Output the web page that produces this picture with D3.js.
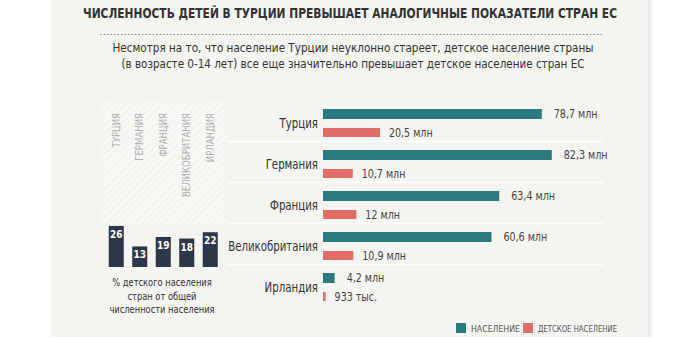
<!DOCTYPE html>
<html><head><meta charset="utf-8">
<script src="https://cdn.jsdelivr.net/npm/d3@7"></script>
<style>
html,body{margin:0;padding:0;background:#fff;}
svg{display:block;}
text{font-family:"DejaVu Sans Condensed","Liberation Sans Narrow","Arial Narrow",sans-serif;}
</style></head>
<body>
<svg id="chart" width="700" height="340"></svg>
<script>
const countries = ["Турция","Германия","Франция","Великобритания","Ирландия"];
const countriesUpper = ["ТУРЦИЯ","ГЕРМАНИЯ","ФРАНЦИЯ","ВЕЛИКОБРИТАНИЯ","ИРЛАНДИЯ"];
const population = [78.7, 82.3, 63.4, 60.6, 4.2];
const populationLabels = ["78,7 млн","82,3 млн","63,4 млн","60,6 млн","4,2 млн"];
const children = [20.5, 10.7, 12, 10.9, 0.933];
const childrenLabels = ["20,5 млн","10,7 млн","12 млн","10,9 млн","933 тыс."];
const childShare = [26, 13, 19, 18, 22];
const title = "ЧИСЛЕННОСТЬ ДЕТЕЙ В ТУРЦИИ ПРЕВЫШАЕТ АНАЛОГИЧНЫЕ ПОКАЗАТЕЛИ СТРАН ЕС";
const subtitle = ["Несмотря на то, что население Турции неуклонно стареет, детское население страны",
                  "(в возрасте 0-14 лет) все еще значительно превышает детское население стран ЕС"];
const caption = ["% детского населения","стран от общей","численности населения"];
const legendLabels = ["НАСЕЛЕНИЕ","ДЕТСКОЕ НАСЕЛЕНИЕ"];

const TEAL = "#2c7a7f", SALMON = "#e06e66", NAVY = "#2e3649";
const svg = d3.select("#chart");

function condense(sel, f){
  sel.each(function(){
    const L = this.getComputedTextLength();
    d3.select(this).attr("textLength", L*f).attr("lengthAdjust","spacingAndGlyphs");
  });
}

// panel
svg.append("rect").attr("x",51).attr("y",0).attr("width",601).attr("height",337).attr("fill","#f4f4f0");
svg.append("line").attr("x1",649).attr("x2",649).attr("y1",0).attr("y2",337).attr("stroke","#e6e6e1").attr("stroke-width",1);

// title
svg.append("text").attr("x",350).attr("y",18).attr("text-anchor","middle")
  .attr("font-size",13.5).attr("font-weight","bold").attr("fill","#333")
  .attr("textLength",534).attr("lengthAdjust","spacingAndGlyphs").text(title);
svg.append("line").attr("x1",100).attr("x2",604).attr("y1",34.5).attr("y2",34.5)
  .attr("stroke","#888").attr("stroke-width",1).attr("stroke-dasharray","1.5,2");
const subLen = [481, 463];
svg.selectAll("text.sub").data(subtitle).join("text").attr("class","sub")
  .attr("x",353).attr("y",(d,i)=>52+i*16).attr("text-anchor","middle")
  .attr("font-size",13).attr("fill","#333")
  .attr("textLength",(d,i)=>subLen[i]).attr("lengthAdjust","spacingAndGlyphs").text(d=>d);

// horizontal bars
const x = d3.scaleLinear().domain([0,100]).range([323,601]);
const y = d3.scaleBand().domain(countries).range([101,306]);
const g = svg.append("g");
g.selectAll("line.sep").data(countries.slice(1)).join("line").attr("class","sep")
  .attr("x1",228).attr("x2",603).attr("y1",d=>y(d)-0.5).attr("y2",d=>y(d)-0.5)
  .attr("stroke","#ffffff").attr("stroke-width",1.5);
g.selectAll("rect.pop").data(countries).join("rect").attr("class","pop")
  .attr("x",x(0)).attr("y",d=>y(d)+8).attr("height",10)
  .attr("width",(d,i)=>x(population[i])-x(0)).attr("fill",TEAL);
g.selectAll("rect.ch").data(countries).join("rect").attr("class","ch")
  .attr("x",x(0)).attr("y",d=>y(d)+27).attr("height",9)
  .attr("width",(d,i)=>x(children[i])-x(0)).attr("fill",SALMON);
g.selectAll("text.popl").data(countries).join("text").attr("class","popl")
  .attr("x",(d,i)=>x(population[i])+12).attr("y",d=>y(d)+17)
  .attr("font-size",11.5).attr("fill","#444").text((d,i)=>populationLabels[i]).call(condense,0.92);
g.selectAll("text.chl").data(countries).join("text").attr("class","chl")
  .attr("x",(d,i)=>x(children[i])+9).attr("y",d=>y(d)+36)
  .attr("font-size",11.5).attr("fill","#444").text((d,i)=>childrenLabels[i]).call(condense,0.92);
g.selectAll("text.cn").data(countries).join("text").attr("class","cn")
  .attr("x",318).attr("y",d=>y(d)+27).attr("text-anchor","end")
  .attr("font-size",13.5).attr("fill","#333").text(d=>d).call(condense,0.84);

// hatch pattern
const defs = svg.append("defs");
const pat = defs.append("pattern").attr("id","hatch").attr("patternUnits","userSpaceOnUse")
  .attr("width",5).attr("height",5).attr("patternTransform","rotate(45)");
pat.append("line").attr("x1",0).attr("x2",0).attr("y1",0).attr("y2",5).attr("stroke","#ffffff").attr("stroke-width",1.6);
svg.append("rect").attr("x",100).attr("y",100).attr("width",125).attr("height",125).attr("fill","url(#hatch)");

// vertical bars
const bx = d3.scaleBand().domain(countries).range([104.5,222]).paddingInner(0.36).paddingOuter(0.18);
const by = d3.scaleLinear().domain([0,30]).range([267,219.6]);
svg.selectAll("rect.share").data(countries).join("rect").attr("class","share")
  .attr("x",d=>bx(d)).attr("width",bx.bandwidth())
  .attr("y",(d,i)=>by(childShare[i])).attr("height",(d,i)=>by(0)-by(childShare[i]))
  .attr("fill",NAVY);
svg.selectAll("text.sharel").data(countries).join("text").attr("class","sharel")
  .attr("x",d=>bx(d)+bx.bandwidth()/2).attr("y",(d,i)=>by(childShare[i])+12)
  .attr("text-anchor","middle").attr("font-size",10).attr("font-weight","bold").attr("fill","#fff")
  .text((d,i)=>childShare[i]);
svg.selectAll("text.vlab").data(countries).join("text").attr("class","vlab")
  .attr("transform",d=>`translate(${bx(d)+bx.bandwidth()/2+3.5},113) rotate(-90)`)
  .attr("text-anchor","end").attr("font-size",10).attr("fill","#b0b0ad")
  .text((d,i)=>countriesUpper[i]).call(condense,0.95);
svg.selectAll("text.cap").data(caption).join("text").attr("class","cap")
  .attr("x",162).attr("y",(d,i)=>286+i*13.5).attr("text-anchor","middle")
  .attr("font-size",10.5).attr("fill","#333").text(d=>d).call(condense,0.88);

// legend
const leg = svg.append("g");
[[TEAL,456,legendLabels[0],49],[SALMON,523,legendLabels[1],79]].forEach(([c,lx,t,len])=>{
  leg.append("rect").attr("x",lx).attr("y",323).attr("width",10).attr("height",10).attr("fill",c);
  leg.append("text").attr("x",lx+15).attr("y",332).attr("font-size",9).attr("fill","#555")
    .attr("textLength",len).attr("lengthAdjust","spacingAndGlyphs").text(t);
});
</script>
</body></html>
